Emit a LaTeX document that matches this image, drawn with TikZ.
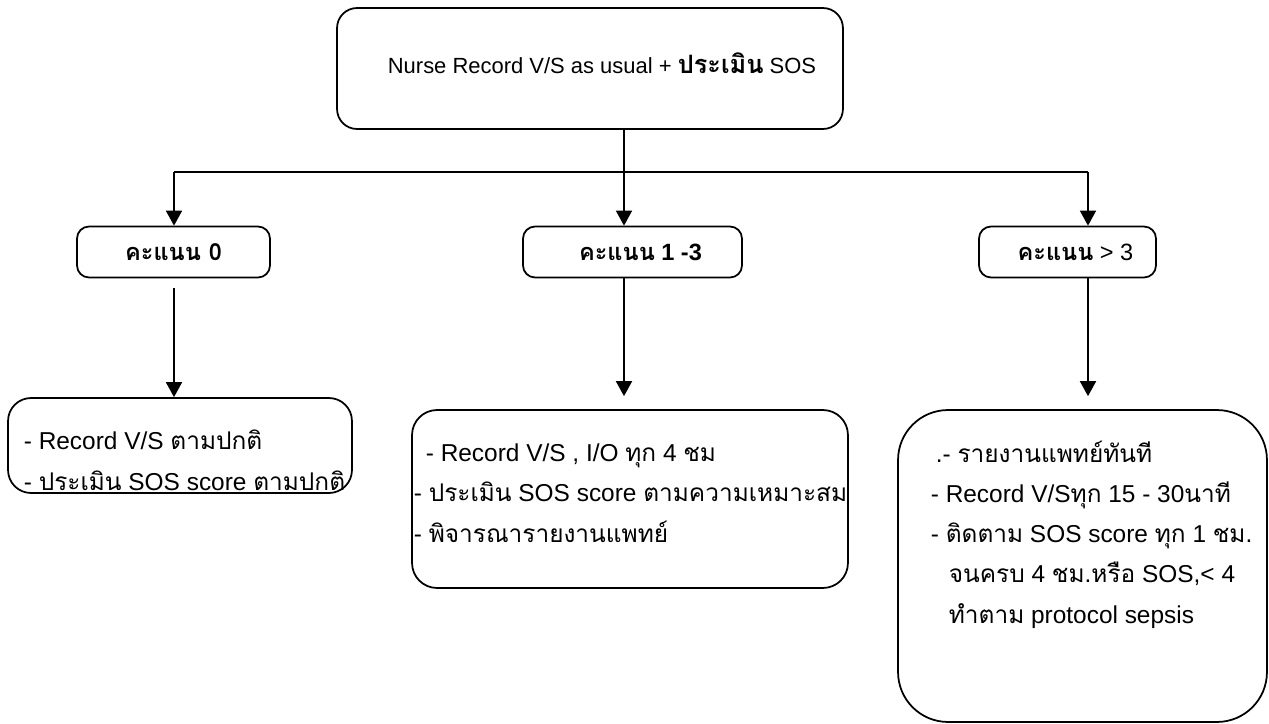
\documentclass[tikz,border=0pt]{standalone}
\usepackage{fontspec}
\setmainfont{Liberation Sans}
\newfontfamily\thaifont[Script=Thai]{Loma}
\newcommand{\tht}[1]{{\thaifont #1}}
\usetikzlibrary{arrows.meta, positioning}

\begin{document}
\begin{tikzpicture}[x=0.02cm, y=-0.02cm, line width=1pt,
	>={Triangle[width=0.32cm,length=0.3cm]},
	font=\fontsize{13.4pt}{22.8pt}\selectfont,
	box/.style={draw, rounded corners=#1, inner sep=0pt},
	txt/.style={anchor=base west, align=left, inner sep=0pt,
		font=\fontsize{13.9pt}{22.8pt}\selectfont}]
	\useasboundingbox (0,0) rectangle (1269,724);
	% boxes
	\node[box=0.4cm, minimum width=10.12cm, minimum height=2.42cm] (top) at (590,68.5) {};
	\node[box=0.24cm, minimum width=3.86cm, minimum height=1.02cm] (s0) at (173.5,252) {\tht{\bfseries คะแนน 0}};
	\node[box=0.24cm, minimum width=4.38cm, minimum height=1.02cm] (s1) at (632.5,252) {\hspace*{0.32cm}\tht{\bfseries คะแนน} \textbf{1 -3}};
	\node[box=0.24cm, minimum width=3.54cm, minimum height=1.02cm] (s2) at (1067.5,252) {\hspace*{0.32cm}\tht{\bfseries คะแนน} > 3};
	\node[box=0.46cm, minimum width=6.88cm, minimum height=1.9cm] (r0) at (180,445.5) {};
	\node[box=0.5cm, minimum width=8.72cm, minimum height=3.56cm] (r1) at (630,499) {};
	\node[box=1cm, minimum width=7.38cm, minimum height=6.24cm] (r2) at (1082.5,566) {};
	% texts
	\node[font=\fontsize{12.5pt}{15pt}\selectfont] (toptxt) at (602,63)
		{Nurse Record V/S as usual + \tht{\fontsize{14.4pt}{15pt}\selectfont\bfseries ประเมิน} SOS};
	\node[txt] (r0txt) at (23,490) {- Record V/S \tht{ตามปกติ}\\
		- \tht{ประเมิน} SOS score \tht{ตามปกติ}};
	\node[txt] (r1txt) at (413,542) {\hspace*{0.24cm}- Record V/S , I/O \tht{ทุก} 4 \tht{ชม}\\
		- \tht{ประเมิน} SOS score \tht{ตามความเหมาะสม}\\
		- \tht{พิจารณารายงานแพทย์}};
	\node[txt] (r2txt) at (930,623) {\hspace*{0.1cm}.- \tht{รายงานแพทย์ทันที}\\
		- Record V/S\tht{ทุก} 15 - 30\tht{นาที}\\
		- \tht{ติดตาม} SOS score \tht{ทุก} 1 \tht{ชม}.\\
		\hspace*{0.36cm}\tht{จนครบ} 4 \tht{ชม}.\tht{หรือ} SOS,< 4\\
		\hspace*{0.36cm}\tht{ทำตาม} protocol sepsis};
	% connectors
	\coordinate (split) at (624,172);
	\coordinate (lft) at (174,172);
	\coordinate (rgt) at (1088,172);
	\draw[->] (split |- top.south) -- (split |- s1.north);
	\draw (lft) -- (rgt);
	\draw[->] (lft) -- (lft |- s0.north);
	\draw[->] (rgt) -- (rgt |- s2.north);
	\draw[->, shorten <=0.2cm] (s0.south -| lft) -- (lft |- r0.north);
	\draw[->, shorten >=0.26cm] (split |- s1.south) -- (split |- r1.north);
	\draw[->, shorten >=0.26cm] (rgt |- s2.south) -- (rgt |- r2.north);
\end{tikzpicture}
\end{document}
